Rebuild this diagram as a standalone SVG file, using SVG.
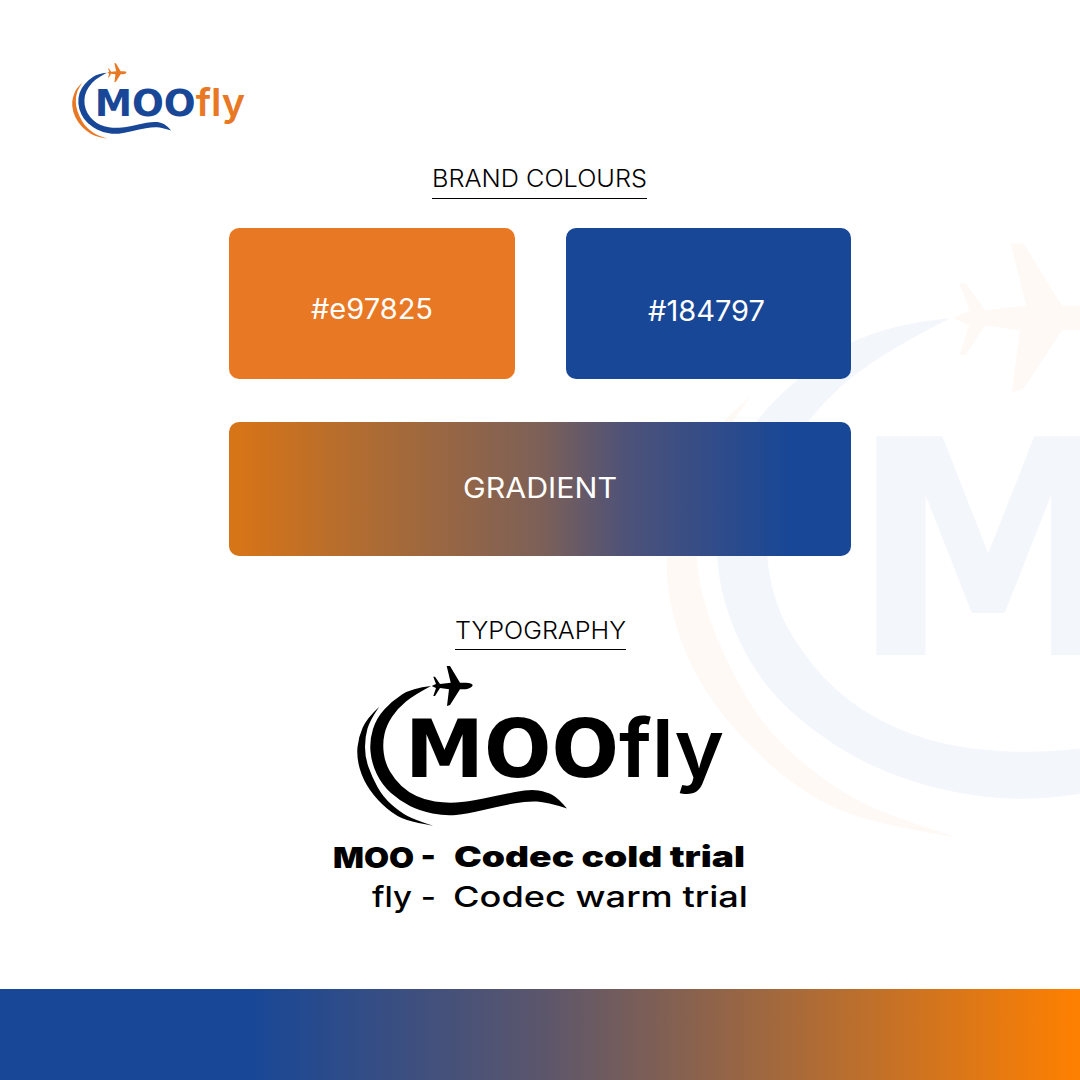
<svg xmlns="http://www.w3.org/2000/svg" width="1080" height="1080" viewBox="0 0 1080 1080">
<style>
text{font-family:"Inter","Liberation Sans",sans-serif}
.h{font-size:24px;font-weight:300;fill:#000}
.l{font-size:28px;font-weight:400;fill:#fff}
.moo{font-family:"DejaVu Sans",sans-serif;font-size:80px;font-weight:700}
.fly{font-size:80px;font-weight:600}
.t1{font-size:29px;font-weight:900;fill:#000}
.t2{font-size:29px;font-weight:500;fill:#000}
.rule{stroke:#000;stroke-width:1}
</style>
<defs>
<linearGradient id="g1" gradientUnits="userSpaceOnUse" x1="240" y1="0" x2="790" y2="0"><stop offset="0" stop-color="#d67418"/><stop offset=".27" stop-color="#a86a37"/><stop offset=".55" stop-color="#7c6058"/><stop offset=".7" stop-color="#4e5278"/><stop offset="1" stop-color="#184797"/></linearGradient>
<linearGradient id="g2" gradientUnits="userSpaceOnUse" x1="250" y1="0" x2="1080" y2="0"><stop offset="0" stop-color="#184797"/><stop offset=".35" stop-color="#5b566c"/><stop offset="1" stop-color="#ff8000"/></linearGradient>
<path id="main" d="M431 686Q412 688 402 694.500Q392 701 384.250 709.500Q376.500 718 373 729Q369.500 740 370.500 751.500Q371.500 763 376.750 774Q382 785 391 793Q400 801 410 806Q420 811 432.500 813.500Q445 816 456 815Q467 814 483.500 810Q500 806 513.500 803.500Q527 801 537 801.500Q547 802 567 808.500Q558 798 552.500 795Q547 792 538.500 790.500Q530 789 515 792Q500 795 483.500 798.500Q467 802 456 802.500Q445 803 435 801.500Q425 800 416.500 796Q408 792 401.500 786Q395 780 390 771.500Q385 763 383.750 753Q382.500 743 384.500 734Q386.500 725 392.250 716.500Q398 708 406 701.500Q414 695 431 686Z"/>
<path id="cres" d="M379.300 706.700Q367 718 362.700 727.500Q358.500 737 357.500 747Q356.500 757 359.700 768.500Q363 780 370 790Q377 800 387 808.500Q397 817 407 820Q417 823 433 825.700Q415 820 407.500 816Q400 812 391.500 804.500Q383 797 377.500 787Q372 777 368.500 767Q365 757 365 747Q365 737 367.500 728.500Q370 720 379.300 706.700Z"/>
<path id="plane" d="M472.700 685Q472 683 466 682.700L460 682.700L450 666L446.700 666L450.700 682.700L440 684L435 676.700L433.300 676.700L436 684L431.700 686L436 688L433.300 696L435 696L440 688L449 689.300L447 706L450 705L460 689.300L466 689.300Q472 688 472.700 685Z"/>
</defs>
<rect width="1080" height="1080" fill="#fff"/>
<g id="watermark">
<g transform="translate(-709 -2234) scale(3.85 3.72)">
<use href="#cres" fill="#fef9f5"/>
<use href="#main" fill="#f3f6fb"/>
<use href="#plane" fill="#fef9f5"/>
</g>
<text transform="translate(851 655) scale(.92 1)" class="moo" style="font-size:300px" fill="#f3f6fb">M</text>
</g>
<g id="logo-colour" transform="translate(-96.500 -251) scale(.472)">
<use href="#cres" fill="#e97825"/>
<use href="#main" fill="#184797"/>
<use href="#plane" fill="#e97825"/>
<text x="405" y="777" class="moo" fill="#184797" textLength="214" lengthAdjust="spacingAndGlyphs">MOO</text>
<text x="619" y="777" class="fly" fill="#e97825" textLength="105" lengthAdjust="spacingAndGlyphs">fly</text>
</g>
<g id="heading-colours">
<text x="432" y="187" class="h" textLength="215" lengthAdjust="spacingAndGlyphs">BRAND COLOURS</text>
<line x1="432" y1="198.500" x2="647" y2="198.500" class="rule"/>
</g>
<g id="swatch-orange">
<rect x="229" y="228" width="286" height="151" rx="10" fill="#e97825"/>
<text x="311" y="319" class="l" textLength="122" lengthAdjust="spacingAndGlyphs">#e97825</text>
</g>
<g id="swatch-blue">
<rect x="566" y="228" width="285" height="151" rx="10" fill="#184797"/>
<text x="648" y="321" class="l" textLength="117" lengthAdjust="spacingAndGlyphs">#184797</text>
</g>
<g id="swatch-gradient">
<rect x="229" y="422" width="622" height="134" rx="10" fill="url(#g1)"/>
<text x="463" y="498" class="l" textLength="154" lengthAdjust="spacingAndGlyphs">GRADIENT</text>
</g>
<g id="heading-typography">
<text x="455" y="639" class="h" textLength="171" lengthAdjust="spacingAndGlyphs">TYPOGRAPHY</text>
<line x1="455" y1="649.500" x2="626" y2="649.500" class="rule"/>
</g>
<g id="logo-black">
<use href="#cres"/>
<use href="#main"/>
<use href="#plane"/>
<text x="405" y="777" class="moo" fill="#000" textLength="214" lengthAdjust="spacingAndGlyphs">MOO</text>
<text x="619" y="777" class="fly" fill="#000" textLength="105" lengthAdjust="spacingAndGlyphs">fly</text>
</g>
<g id="type-notes">
<text x="333" y="868" class="t1" textLength="103" lengthAdjust="spacingAndGlyphs">MOO -</text>
<text x="454" y="867" class="t1" textLength="291" lengthAdjust="spacingAndGlyphs">Codec cold trial</text>
<text x="372" y="907" class="t2" textLength="64" lengthAdjust="spacingAndGlyphs">fly -</text>
<text x="453" y="907" class="t2" textLength="295" lengthAdjust="spacingAndGlyphs">Codec warm trial</text>
</g>
<rect id="footer-bar" x="0" y="989" width="1080" height="91" fill="url(#g2)"/>
</svg>
